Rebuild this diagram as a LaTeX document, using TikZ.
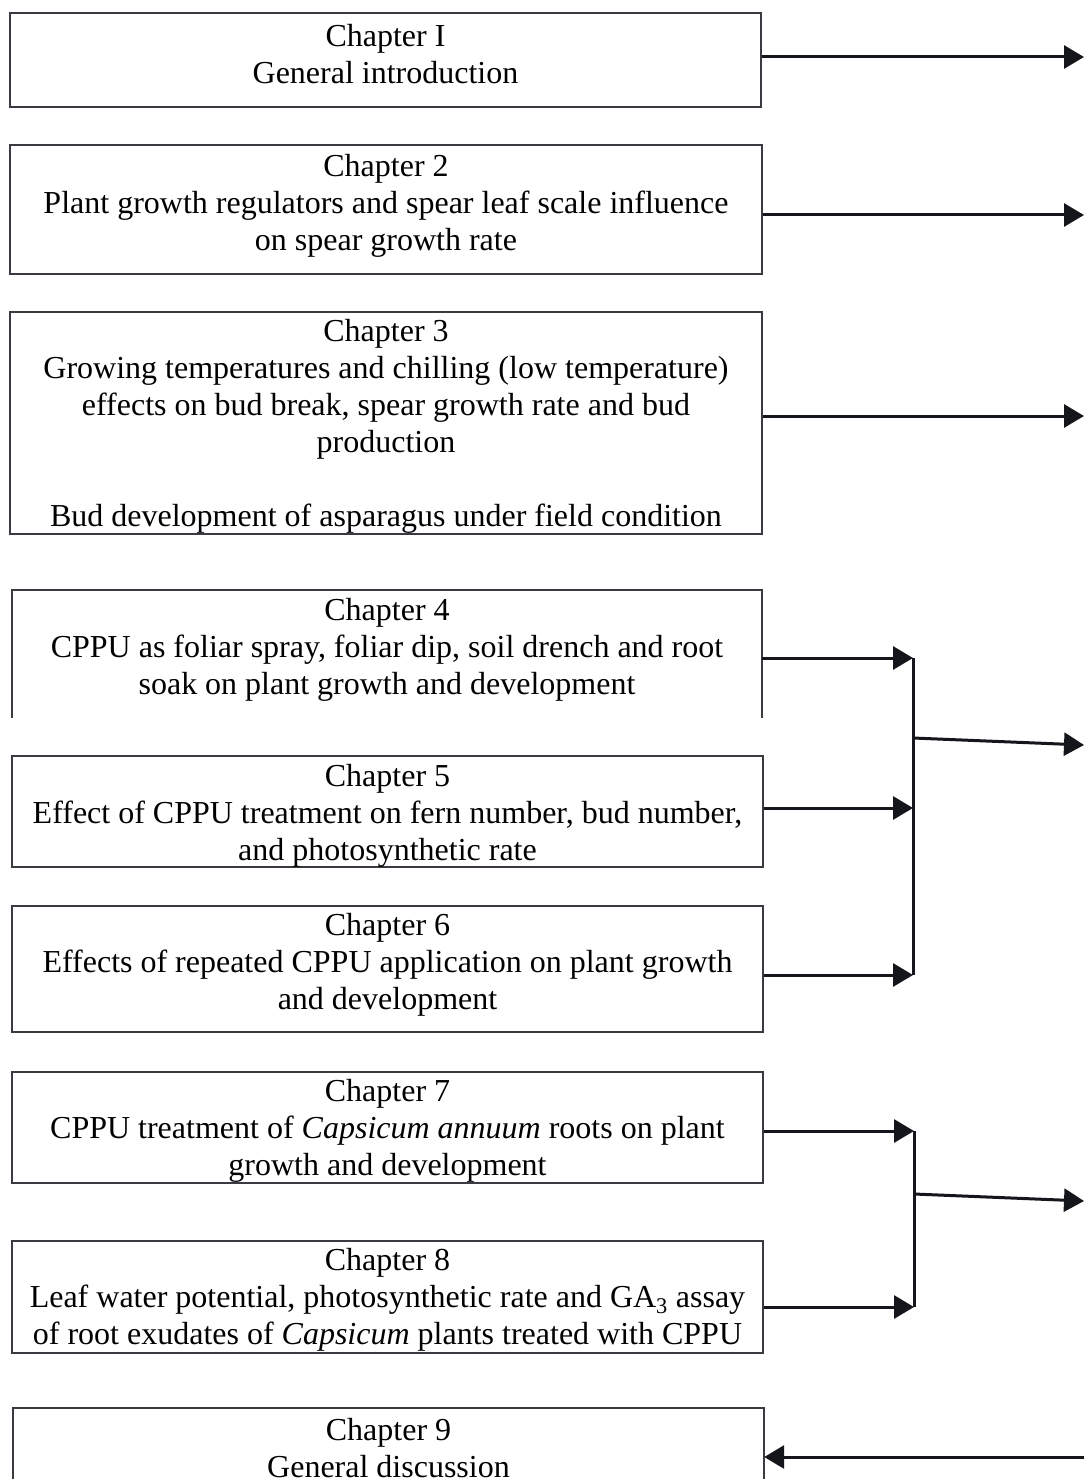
\documentclass[tikz,border=0pt]{standalone}
\usepackage{fontspec}
\setmainfont{Liberation Serif}
\usetikzlibrary{arrows.meta}
\definecolor{boxc}{HTML}{3A3A40}
\definecolor{arrc}{HTML}{15151C}
\begin{document}
\begin{tikzpicture}[x=1pt,y=-1pt,
  boxn/.style={draw=boxc, line width=1.9pt, inner sep=0pt},
  openbox/.style={inner sep=0pt},
  txt/.style={align=center, font=\fontsize{32}{37}\selectfont, inner sep=0pt, text=black},
  arr/.style={draw=arrc, line width=3pt, -{Triangle[length=20pt,width=23pt]}},
  link/.style={draw=arrc, line width=3pt}]
\useasboundingbox (0,0) rectangle (1084,1479);
\fill[white] (0,0) rectangle (1084,1479);

% boxes
\node[boxn, minimum width=751pt, minimum height=94pt] (b1) at (385.5,60) {};
\node[boxn, minimum width=752pt, minimum height=129pt] (b2) at (386,209.5) {};
\node[boxn, minimum width=752pt, minimum height=222pt] (b3) at (386,423) {};
\node[openbox, minimum width=750pt, minimum height=128pt] (b4) at (387,654) {};
\node[boxn, minimum width=751pt, minimum height=111pt] (b5) at (387.5,811.5) {};
\node[boxn, minimum width=751pt, minimum height=126pt] (b6) at (387.5,969) {};
\node[boxn, minimum width=751pt, minimum height=111pt] (b7) at (387.5,1127.5) {};
\node[boxn, minimum width=751pt, minimum height=112pt] (b8) at (387.5,1297) {};
\node[openbox, minimum width=751pt, minimum height=100pt] (b9) at (388.5,1458) {};
\draw[draw=boxc, line width=1.9pt] (b4.south west) -- (b4.north west) -- (b4.north east) -- (b4.south east);
\draw[draw=boxc, line width=1.9pt] (b9.south west) -- (b9.north west) -- (b9.north east) -- (b9.south east);

% texts
\node[txt] (t1) at (385.5,54) {Chapter I\\General introduction};
\node[txt] (t2) at (386,206) {Chapter 2\\Plant growth regulators and spear leaf scale influence\\on spear growth rate};
\node[txt] (t3) at (386,426) {Chapter 3\\Growing temperatures and chilling (low temperature)\\effects on bud break, spear growth rate and bud\\production\\[37pt]Bud development of asparagus under field condition};
\node[txt] (t4) at (387,650) {Chapter 4\\CPPU as foliar spray, foliar dip, soil drench and root\\soak on plant growth and development};
\node[txt] (t5) at (387.5,816) {Chapter 5\\Effect of CPPU treatment on fern number, bud number,\\and photosynthetic rate};
\node[txt] (t6) at (387.5,965) {Chapter 6\\Effects of repeated CPPU application on plant growth\\and development};
\node[txt] (t7) at (387.5,1131) {Chapter 7\\CPPU treatment of \textit{Capsicum annuum} roots on plant\\growth and development};
\node[txt] (t8) at (387.5,1300) {Chapter 8\\Leaf water potential, photosynthetic rate and GA\textsubscript{3} assay\\of root exudates of \textit{Capsicum} plants treated with CPPU};
\node[txt] (t9) at (388.5,1448) {Chapter 9\\General discussion};

% connector coordinates
\coordinate (r1) at (1084,57);
\coordinate (r2) at (1084,215);
\coordinate (r3) at (1084,416);
\coordinate (r4) at (1084,745);
\coordinate (r5) at (1084,1201);
\coordinate (r6) at (1084,1457);
\coordinate (j4) at (913,658);
\coordinate (j5) at (913,808);
\coordinate (j6) at (913,975);
\coordinate (m1) at (913,738);
\coordinate (j7) at (914,1131);
\coordinate (j8) at (914,1307);
\coordinate (m2) at (914,1194);

% connectors
\draw[arr] (b1.east |- r1) -- (r1);
\draw[arr] (b2.east |- r2) -- (r2);
\draw[arr] (b3.east |- r3) -- (r3);
\draw[arr] (b4.east |- j4) -- (j4);
\draw[arr] (b5.east |- j5) -- (j5);
\draw[arr] (b6.east |- j6) -- (j6);
\draw[link] (j4) -- (j6);
\draw[arr] (m1) -- (r4);
\draw[arr] (b7.east |- j7) -- (j7);
\draw[arr] (b8.east |- j8) -- (j8);
\draw[link] (j7) -- (j8);
\draw[arr] (m2) -- (r5);
\draw[arr] (r6) -- (b9.east |- r6);
\end{tikzpicture}
\end{document}
